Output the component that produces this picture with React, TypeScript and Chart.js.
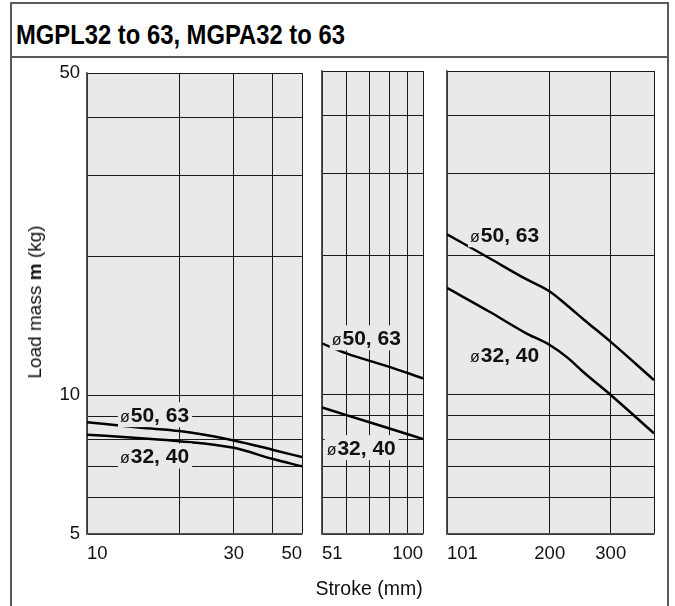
import React, { useEffect, useRef } from "react";
import { Chart, registerables } from "chart.js";
Chart.register(...registerables);

const FONT = '"Liberation Sans", Arial, Helvetica, sans-serif';
const PLOT_BG = "#e8e9e9";

// Shared y axis (load mass, kg)
const yRange = [5, 50];
const yGrid = [5, 6, 7, 8, 9, 10, 20, 30, 40, 50];
const yLabels = [5, 10, 50];

// Panel 1: stroke 10 to 50
const p1Range = [10, 50];
const p1Grid = [10, 20, 30, 40, 50];
const p1Labels = [10, 30, 50];
const p1Stroke = [10, 15, 20, 30, 40, 50];
const p1Big = [8.74, 8.5, 8.36, 7.98, 7.62, 7.34];
const p1Small = [8.21, 8.07, 7.95, 7.69, 7.28, 7.01];

// Panel 2: stroke 51 to 100
const p2Range = [51, 100];
const p2Grid = [51, 60, 70, 80, 90, 100];
const p2Labels = [51, 100];
const p2Stroke = [51, 60, 80, 100];
const p2Big = [12.9, 12.28, 11.48, 10.84];
const p2Small = [9.38, 9.03, 8.45, 8.02];

// Panel 3: stroke 101 to 400
const p3Range = [101, 400];
const p3Grid = [101, 200, 300, 400];
const p3Labels = [101, 200, 300];
const p3Stroke = [101, 134, 170, 200, 225, 250, 300, 400];
const p3Big = [22.2, 19.7, 17.8, 16.7, 15.56, 14.55, 13.0, 10.75];
const p3Small = [17.0, 15.1, 13.6, 12.8, 12.02, 11.19, 9.98, 8.25];

// Series names and label anchors (stroke, load)
const bigName = "50, 63";
const smallName = "32, 40";
const p1BigLabelAt = [12.8, 9.1];
const p1SmallLabelAt = [12.8, 7.4];
const p2BigLabelAt = [54.4, 13.3];
const p2SmallLabelAt = [52.6, 7.7];
const p3BigLabelAt = [117.7, 22.2];
const p3SmallLabelAt = [117.7, 12.2];

type PanelCfg = {
  range: number[];
  grid: number[];
  labels: number[];
  stroke: number[];
  big: number[];
  small: number[];
  bigAt: number[];
  smallAt: number[];
  showY: boolean;
  box: { left: number; top: number; width: number; height: number };
  yAxisW: number;
  padTop: number;
  padRight: number;
  xAxisH: number;
};

const panels: PanelCfg[] = [
  { range: p1Range, grid: p1Grid, labels: p1Labels, stroke: p1Stroke, big: p1Big, small: p1Small,
    bigAt: p1BigLabelAt, smallAt: p1SmallLabelAt, showY: true,
    box: { left: 45, top: 55, width: 270, height: 520 }, yAxisW: 42, padTop: 16, padRight: 13, xAxisH: 41 },
  { range: p2Range, grid: p2Grid, labels: p2Labels, stroke: p2Stroke, big: p2Big, small: p2Small,
    bigAt: p2BigLabelAt, smallAt: p2SmallLabelAt, showY: false,
    box: { left: 312, top: 55, width: 124, height: 520 }, yAxisW: 10, padTop: 16, padRight: 13, xAxisH: 41 },
  { range: p3Range, grid: p3Grid, labels: p3Labels, stroke: p3Stroke, big: p3Big, small: p3Small,
    bigAt: p3BigLabelAt, smallAt: p3SmallLabelAt, showY: false,
    box: { left: 437, top: 55, width: 230, height: 520 }, yAxisW: 10, padTop: 16, padRight: 13, xAxisH: 41 },
];

const bgPlugin = {
  id: "plotBg",
  beforeDraw(chart: any) {
    const { ctx, chartArea: a } = chart;
    ctx.save();
    ctx.fillStyle = PLOT_BG;
    ctx.fillRect(a.left, a.top, a.right - a.left, a.bottom - a.top);
    ctx.restore();
  },
};

const labelPlugin = {
  id: "seriesLabels",
  afterDatasetsDraw(chart: any, _args: any, opts: any) {
    const { ctx } = chart;
    const xs = chart.scales.x;
    const ys = chart.scales.y;
    (opts.items || []).forEach((it: any) => {
      const px = xs.getPixelForValue(it.at[0]);
      const py = ys.getPixelForValue(it.at[1]);
      ctx.save();
      const smallFont = `16px ${FONT}`;
      const bigFont = `bold 21px ${FONT}`;
      ctx.font = smallFont;
      const w1 = ctx.measureText("ø").width;
      ctx.font = bigFont;
      const w2 = ctx.measureText(it.text).width;
      ctx.fillStyle = PLOT_BG;
      ctx.fillRect(px - 2, py - 12, w1 + w2 + 6, 25);
      ctx.fillStyle = "#111";
      ctx.textBaseline = "alphabetic";
      ctx.textAlign = "left";
      ctx.font = smallFont;
      ctx.fillText("ø", px, py + 7.5);
      ctx.font = bigFont;
      ctx.fillText(it.text, px + w1 + 1, py + 7.5);
      ctx.restore();
    });
  },
};

function Panel({ cfg }: { cfg: PanelCfg }) {
  const ref = useRef<HTMLCanvasElement>(null);
  useEffect(() => {
    if (!ref.current) return;
    const mk = (xs: number[], ys: number[]) => xs.map((x, i) => ({ x, y: ys[i] }));
    const chart = new Chart(ref.current, {
      type: "line",
      data: {
        datasets: [
          { label: "ø" + bigName, data: mk(cfg.stroke, cfg.big), borderColor: "#000", borderWidth: 2.5,
            pointRadius: 0, cubicInterpolationMode: "monotone", fill: false },
          { label: "ø" + smallName, data: mk(cfg.stroke, cfg.small), borderColor: "#000", borderWidth: 2.5,
            pointRadius: 0, cubicInterpolationMode: "monotone", fill: false },
        ],
      },
      options: {
        animation: false,
        responsive: false,
        maintainAspectRatio: false,
        events: [],
        layout: { padding: { top: cfg.padTop, right: cfg.padRight, left: 0, bottom: 0 } },
        plugins: {
          legend: { display: false },
          tooltip: { enabled: false },
          seriesLabels: {
            items: [
              { text: bigName, at: cfg.bigAt },
              { text: smallName, at: cfg.smallAt },
            ],
          },
        } as any,
        scales: {
          x: {
            type: "logarithmic",
            min: cfg.range[0],
            max: cfg.range[1],
            afterBuildTicks: (s: any) => { s.ticks = cfg.grid.map((v) => ({ value: v })); },
            afterFit: (s: any) => { s.height = cfg.xAxisH; },
            ticks: {
              autoSkip: false,
              maxRotation: 0,
              align: "inner",
              padding: 9,
              color: "#111",
              font: { family: FONT, size: 18.5 },
              callback: (v: any) => (cfg.labels.includes(Number(v)) ? String(v) : ""),
            },
            grid: { color: "#1a1a1a", lineWidth: 1, drawTicks: false },
            border: { display: true, color: "#555", width: 1.5 },
          },
          y: {
            type: "logarithmic",
            min: yRange[0],
            max: yRange[1],
            afterBuildTicks: (s: any) => { s.ticks = yGrid.map((v) => ({ value: v })); },
            afterFit: (s: any) => { s.width = cfg.yAxisW; },
            ticks: {
              display: cfg.showY,
              autoSkip: false,
              padding: 7,
              color: "#111",
              font: { family: FONT, size: 18.5 },
              callback: (v: any) => (yLabels.includes(Number(v)) ? String(v) : ""),
            },
            grid: { color: "#1a1a1a", lineWidth: 1, drawTicks: false },
            border: { display: true, color: "#555", width: 1.5 },
          },
        },
      },
      plugins: [bgPlugin, labelPlugin],
    } as any);
    return () => chart.destroy();
  }, [cfg]);
  return (
    <canvas
      ref={ref}
      width={cfg.box.width}
      height={cfg.box.height}
      style={{ position: "absolute", left: cfg.box.left, top: cfg.box.top, width: cfg.box.width, height: cfg.box.height }}
    />
  );
}

export default function App() {
  const line = "#5a5a5a";
  return (
    <div style={{ position: "absolute", left: 0, top: 0, width: 675, height: 606, background: "#fff", fontFamily: FONT, overflow: "hidden" }}>
      <div style={{ position: "absolute", left: 10, top: 2, width: 659, height: 2, background: line }} />
      <div style={{ position: "absolute", left: 10, top: 2, width: 2, height: 604, background: line }} />
      <div style={{ position: "absolute", left: 667, top: 2, width: 2, height: 604, background: line }} />
      <div style={{ position: "absolute", left: 10, top: 56, width: 659, height: 2, background: line }} />
      <div style={{ position: "absolute", left: 16, top: 21, fontWeight: "bold", fontSize: 28, lineHeight: "28px", color: "#000", whiteSpace: "nowrap", transform: "scaleX(0.85)", transformOrigin: "0 0" }}>
        MGPL32 to 63, MGPA32 to 63
      </div>
      {panels.map((p, i) => (
        <Panel key={i} cfg={p} />
      ))}
      <div style={{ position: "absolute", left: 35, top: 302, transform: "translate(-50%, -50%) rotate(-90deg)", fontSize: 19, whiteSpace: "nowrap", color: "#111" }}>
        Load mass <b>m</b> (kg)
      </div>
      <div style={{ position: "absolute", left: 369, top: 588, transform: "translate(-50%, -50%)", fontSize: 19.5, whiteSpace: "nowrap", color: "#111" }}>
        Stroke (mm)
      </div>
    </div>
  );
}
